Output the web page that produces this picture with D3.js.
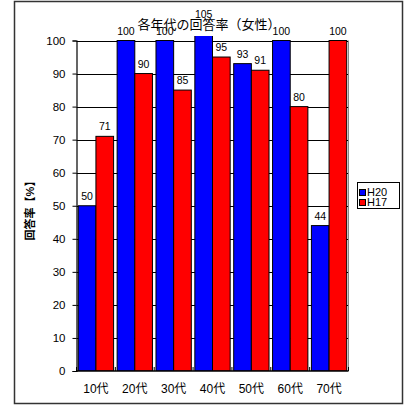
<!DOCTYPE html>
<html><head><meta charset="utf-8">
<script src="https://cdn.jsdelivr.net/npm/d3@7/dist/d3.min.js"></script>
<style>body{margin:0;background:#fff}</style>
</head><body>
<script>
const categories = ["10代","20代","30代","40代","50代","60代","70代"];
const seriesNames = ["H20","H17"];
const h20 = [50,100,100,105,93,100,44];
const h17 = [71,90,85,95,91,80,100];
const yTicks = [0,10,20,30,40,50,60,70,80,90,100];
const colors = ["#0000ff","#ff0000"];
const titleText = "各年代の回答率（女性）";
const yTitle = "回答率【%】";

const W = 407, H = 406;
const font = "'Liberation Sans','Noto Sans CJK JP',sans-serif";
const svg = d3.select("body").append("svg").attr("width",W).attr("height",H)
  .style("font-family",font);

svg.append("rect").attr("x",14.5).attr("y",1.5).attr("width",388).attr("height",402)
  .attr("fill","#fff").attr("stroke","#333").attr("stroke-width",1.5);

const L=76.5, R=348.5, T=40.5, B=371;
const x = d3.scaleBand().domain(categories).range([L,R]).padding(0);
const xs = d3.scaleBand().domain(seriesNames).range([0,x.bandwidth()]).paddingInner(0).paddingOuter(0.1);
const y = d3.scaleLinear().domain([0,100]).range([B,T]);

// gridlines
svg.append("g").selectAll("line").data(yTicks.filter(d=>d>0)).join("line")
  .attr("x1",L).attr("x2",R).attr("y1",d=>Math.round(y(d))+0.5).attr("y2",d=>Math.round(y(d))+0.5)
  .attr("stroke","#000").attr("stroke-width",1);
// right border of plot
svg.append("line").attr("x1",R).attr("x2",R).attr("y1",T).attr("y2",B).attr("stroke","#888");

svg.append("defs").append("clipPath").attr("id","clip").append("rect")
  .attr("x",L-2).attr("y",36).attr("width",R-L+4).attr("height",B-36);

const data = categories.map((c,i)=>({c, vals:[{s:"H20",v:h20[i]},{s:"H17",v:h17[i]}]}));
const gBars = svg.append("g").attr("clip-path","url(#clip)");
const groups = gBars.selectAll("g").data(data).join("g").attr("transform",d=>`translate(${x(d.c)},0)`);
groups.selectAll("rect").data(d=>d.vals).join("rect")
  .attr("x",d=>xs(d.s)).attr("width",xs.bandwidth())
  .attr("y",d=>y(d.v)).attr("height",d=>B-y(d.v))
  .attr("fill",(d,i)=>colors[i]).attr("stroke","#000").attr("stroke-width",1);

// value labels
const lg = svg.append("g");
data.forEach(d=>{
  d.vals.forEach(v=>{
    lg.append("text").attr("x",x(d.c)+xs(v.s)+xs.bandwidth()/2).attr("y",y(v.v)-6)
      .attr("text-anchor","middle").attr("font-size",10.5).attr("fill","#000").text(v.v);
  });
});

// axes
const yAxis = d3.axisLeft(y).tickValues(yTicks).tickSize(4).tickPadding(7);
const ya = svg.append("g").attr("transform",`translate(${L},0)`).call(yAxis);
ya.select(".domain").attr("stroke","#000").attr("stroke-width",1.2);
ya.selectAll(".tick line").attr("stroke","#000");
ya.selectAll("text").attr("font-size",11.5).attr("font-family",font).attr("fill","#000");

svg.append("line").attr("x1",L).attr("x2",R).attr("y1",B).attr("y2",B).attr("stroke","#000").attr("stroke-width",1.5);
const bounds = categories.map(c=>x(c)).concat([R]);
svg.append("g").selectAll("line").data(bounds).join("line")
  .attr("x1",d=>d).attr("x2",d=>d).attr("y1",B).attr("y2",B-4).attr("stroke","#000");
svg.append("g").selectAll("text").data(categories).join("text")
  .attr("x",d=>x(d)+x.bandwidth()/2).attr("y",393).attr("text-anchor","middle")
  .attr("font-size",12).attr("fill","#000").text(d=>d);

// title
svg.append("text").attr("x",209).attr("y",29).attr("text-anchor","middle")
  .attr("font-size",13).attr("fill","#000").text(titleText);
// y title
svg.append("text").attr("transform","translate(34,208) rotate(-90)").attr("text-anchor","middle")
  .attr("font-size",11).attr("font-weight","bold").attr("fill","#000").text(yTitle);

// legend
const leg = svg.append("g");
leg.append("rect").attr("x",357.5).attr("y",182.5).attr("width",42).attr("height",26)
  .attr("fill","#fff").attr("stroke","#000");
seriesNames.forEach((s,i)=>{
  leg.append("rect").attr("x",359.5).attr("y",189.5+i*10).attr("width",6).attr("height",6)
    .attr("fill",colors[i]).attr("stroke","#000");
  leg.append("text").attr("x",367).attr("y",196+i*10).attr("font-size",11).attr("fill","#000").text(s);
});
</script>
</body></html>
